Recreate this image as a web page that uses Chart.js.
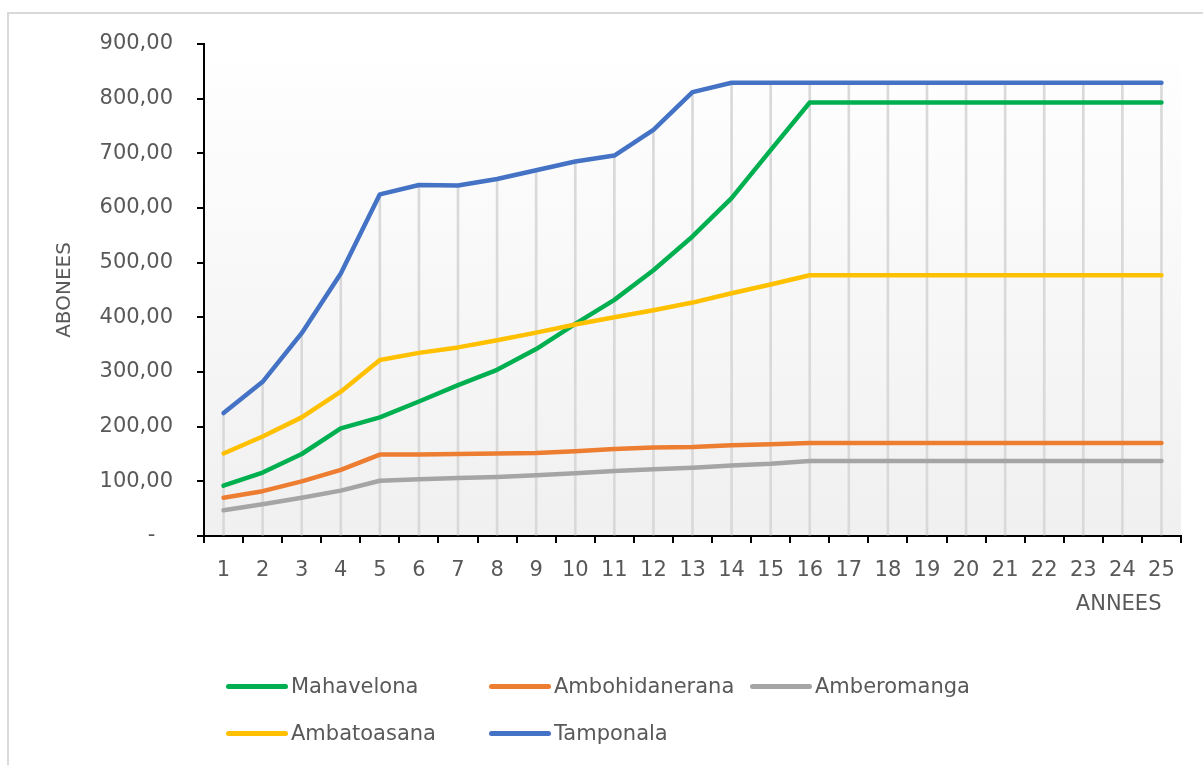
<!DOCTYPE html>
<html>
<head>
<meta charset="utf-8">
<title>Abonnés par année</title>
<script src="https://cdn.jsdelivr.net/npm/chart.js@4.4.1/dist/chart.umd.min.js"></script>
<style>
  html, body { margin: 0; padding: 0; background: #fff; }
  body { width: 1203px; height: 765px; position: relative; overflow: hidden; font-family: "DejaVu Sans", sans-serif; }
  #frame { position: absolute; left: 7px; top: 12px; width: 1300px; height: 900px; border: 2px solid #d9d9d9; box-sizing: border-box; }
  #wrap { position: absolute; left: 0; top: 0; width: 1203px; height: 765px; }
  #legend { position: absolute; left: 226px; top: 663px; display: grid; grid-template-columns: 263px 261px auto; }
  .item { display: flex; align-items: center; height: 47px; }
  .swatch { width: 62px; height: 5px; border-radius: 3px; margin-right: 3px; }
  .label { font-size: 21px; color: #595959; line-height: 1; }
</style>
</head>
<body>
<div id="frame"></div>
<div id="wrap"><canvas id="abonnes"></canvas></div>
<div id="legend"></div>
<script>
// years 1..25
const years = ["1", "2", "3", "4", "5", "6", "7", "8", "9", "10", "11", "12", "13",
  "14", "15", "16", "17", "18", "19", "20", "21", "22", "23", "24", "25"];

const mahavelona = [92, 116, 150, 197, 217, 246, 276, 304, 342, 388, 432, 486, 548,
  618, 706, 793, 793, 793, 793, 793, 793, 793, 793, 793, 793];
const ambohidanerana = [70, 82, 100, 121, 149, 149, 150, 151, 152, 155, 159, 162, 163,
  166, 168, 170, 170, 170, 170, 170, 170, 170, 170, 170, 170];
const amberomanga = [47, 58, 70, 83, 101, 104, 106, 108, 111, 115, 119, 122, 125,
  129, 132, 137, 137, 137, 137, 137, 137, 137, 137, 137, 137];
const ambatoasana = [151, 182, 217, 264, 322, 335, 345, 358, 372, 387, 400, 413, 427,
  444, 460, 477, 477, 477, 477, 477, 477, 477, 477, 477, 477];
const tamponala = [225, 282, 371, 480, 625, 642, 641, 653, 669, 685, 696, 743, 812,
  829, 829, 829, 829, 829, 829, 829, 829, 829, 829, 829, 829];

const yTicks = [0, 100, 200, 300, 400, 500, 600, 700, 800, 900];

const series = [
  { label: "Mahavelona", data: mahavelona, color: "#00b050" },
  { label: "Ambohidanerana", data: ambohidanerana, color: "#ed7d31" },
  { label: "Amberomanga", data: amberomanga, color: "#a5a5a5" },
  { label: "Ambatoasana", data: ambatoasana, color: "#ffc000" },
  { label: "Tamponala", data: tamponala, color: "#4472c4" }
];

// drop lines go from the highest series down to the axis
const dropTops = years.map((_, i) => Math.max(...series.map(s => s.data[i])));

const textColor = "#595959";
Chart.defaults.font.family = '"DejaVu Sans", sans-serif';
Chart.defaults.color = textColor;

const plotBackground = {
  id: "plotBackground",
  beforeDraw(chart) {
    const { ctx, chartArea: a } = chart;
    const g = ctx.createLinearGradient(0, a.top, 0, a.bottom);
    g.addColorStop(0, "#ffffff");
    g.addColorStop(1, "#f0f0f0");
    ctx.save();
    ctx.fillStyle = g;
    ctx.fillRect(a.left, a.top, a.right - a.left, a.bottom - a.top);
    ctx.restore();
  }
};

const axisNote = {
  id: "axisNote",
  afterDraw(chart) {
    const x = chart.scales.x;
    const ctx = chart.ctx;
    ctx.save();
    ctx.font = '21px "DejaVu Sans", sans-serif';
    ctx.fillStyle = textColor;
    ctx.textAlign = "right";
    ctx.textBaseline = "middle";
    ctx.fillText("ANNEES", x.getPixelForValue(years.length - 1), x.top + 69);
    ctx.restore();
  }
};

const datasets = series.map((s, i) => ({
  type: "line",
  label: s.label,
  data: s.data,
  borderColor: s.color,
  backgroundColor: s.color,
  borderWidth: 4.5,
  borderCapStyle: "round",
  borderJoinStyle: "round",
  tension: 0,
  pointRadius: 0,
  pointHoverRadius: 0,
  order: series.length - i
}));

datasets.push({
  type: "bar",
  label: "drop",
  data: dropTops,
  backgroundColor: "#d9d9d9",
  barThickness: 2,
  order: 10
});

new Chart(document.getElementById("abonnes"), {
  type: "line",
  data: { labels: years, datasets: datasets },
  options: {
    responsive: true,
    maintainAspectRatio: false,
    animation: false,
    layout: { padding: { top: 44, right: 22, bottom: 149, left: 0 } },
    plugins: {
      legend: { display: false },
      tooltip: { enabled: false }
    },
    scales: {
      x: {
        offset: true,
        grid: { offset: true, drawOnChartArea: false, drawTicks: true, tickLength: 7, color: "#000", lineWidth: 2 },
        border: { display: true, color: "#000", width: 2 },
        ticks: { font: { size: 21 }, color: textColor, padding: 15, maxRotation: 0, autoSkip: false },
        afterFit(scale) { scale.height = 80; }
      },
      y: {
        min: 0,
        max: 900,
        afterBuildTicks(scale) { scale.ticks = yTicks.map(v => ({ value: v })); },
        grid: { drawOnChartArea: false, drawTicks: true, tickLength: 7, color: "#000", lineWidth: 2 },
        border: { display: true, color: "#000", width: 2 },
        ticks: {
          font: { size: 21 },
          color: textColor,
          padding: 24,
          callback: v => v === 0 ? "-\u2007\u2009" : v.toFixed(2).replace(".", ",")
        },
        title: { display: true, text: "ABONEES", font: { size: 20 }, color: textColor, padding: { top: 53, bottom: 0 } },
        afterFit(scale) { scale.width = 204; }
      }
    }
  },
  plugins: [plotBackground, axisNote]
});

// legend laid out in fixed columns, two rows
const legend = document.getElementById("legend");
series.forEach(s => {
  const item = document.createElement("div");
  item.className = "item";
  const sw = document.createElement("span");
  sw.className = "swatch";
  sw.style.background = s.color;
  const lb = document.createElement("span");
  lb.className = "label";
  lb.textContent = s.label;
  item.appendChild(sw);
  item.appendChild(lb);
  legend.appendChild(item);
});
</script>
</body>
</html>
